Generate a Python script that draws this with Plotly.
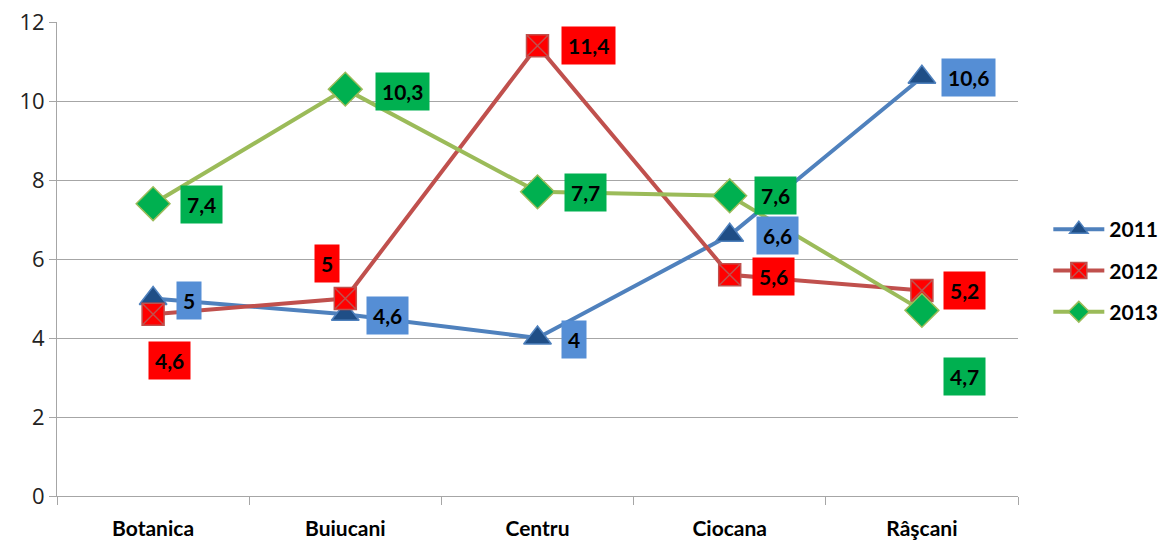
import plotly.graph_objects as go

districts = ["Botanica", "Buiucani", "Centru", "Ciocana", "Râşcani"]
years = ["2011", "2012", "2013"]
v2011 = [5.0, 4.6, 4.0, 6.6, 10.6]
v2012 = [4.6, 5.0, 11.4, 5.6, 5.2]
v2013 = [7.4, 10.3, 7.7, 7.6, 4.7]
y_ticks = [0, 2, 4, 6, 8, 10, 12]

series = [
    dict(name=years[0], values=v2011, line="#4F81BD", fill="#1F4E86", edge="#4F81BD",
         symbol="triangle-up", size=24, box="#558ED5",
         offsets=[(36, -2), (42, -1), (36, -1), (48, 0), (47, 0)]),
    dict(name=years[1], values=v2012, line="#C0504D", fill="#FF0000", edge="#C0504D",
         symbol="square-x", size=22, box="#FF0000",
         offsets=[(16, -46), (-18, 35), (51, 0), (44, -2), (43, 0)]),
    dict(name=years[2], values=v2013, line="#9BBB59", fill="#00B050", edge="#9BBB59",
         symbol="diamond", size=26, box="#00B050",
         offsets=[(48, -1), (57, -2), (48, -1), (46, 0), (43, -66)]),
]

fig = go.Figure()
annotations = []
for s in series:
    fig.add_trace(go.Scatter(
        x=districts, y=s["values"], name=s["name"], legendgroup=s["name"],
        mode="lines+markers",
        line=dict(color=s["line"], width=4),
        marker=dict(symbol=s["symbol"], size=s["size"], color=s["fill"],
                    line=dict(color=s["edge"], width=1.5)),
    ))
    for d, v, (dx, dy) in zip(districts, s["values"], s["offsets"]):
        annotations.append(dict(
            x=d, y=v, xref="x", yref="y", xshift=dx, yshift=dy,
            text=f"<b>{v:g}</b>".replace(".", ","), showarrow=False,
            bgcolor=s["box"], borderpad=6,
            font=dict(family="Lato", size=21, color="#000000"),
        ))

fig.update_layout(
    width=1170, height=541,
    margin=dict(l=57, r=152, t=22, b=45),
    paper_bgcolor="white", plot_bgcolor="white",
    annotations=annotations,
    legend=dict(xref="container", yref="container", x=0.896, xanchor="left",
                y=0.5, yanchor="middle",
                font=dict(family="Lato", size=21, color="#000000", weight="bold"),
                itemwidth=51, tracegroupgap=11, bgcolor="rgba(0,0,0,0)"),
    xaxis=dict(
        type="category", range=[-0.5, 4.5], showgrid=False, automargin=False,
        ticks="outside", tickson="boundaries", ticklen=8, tickcolor="#A6A6A6",
        showline=True, linecolor="#A6A6A6", linewidth=1,
        tickfont=dict(family="Lato", size=21, color="#000000", weight="bold"),
        ticklabelstandoff=14,
    ),
    yaxis=dict(
        range=[0, 12], tickvals=y_ticks, showgrid=True, gridcolor="#A6A6A6", gridwidth=1,
        automargin=False,
        ticks="outside", ticklen=7, tickcolor="#A6A6A6",
        showline=True, linecolor="#A6A6A6", linewidth=1, zeroline=False,
        tickfont=dict(family="Open Sans", size=22, color="#222222"),
    ),
)

fig.write_html("out.html")
